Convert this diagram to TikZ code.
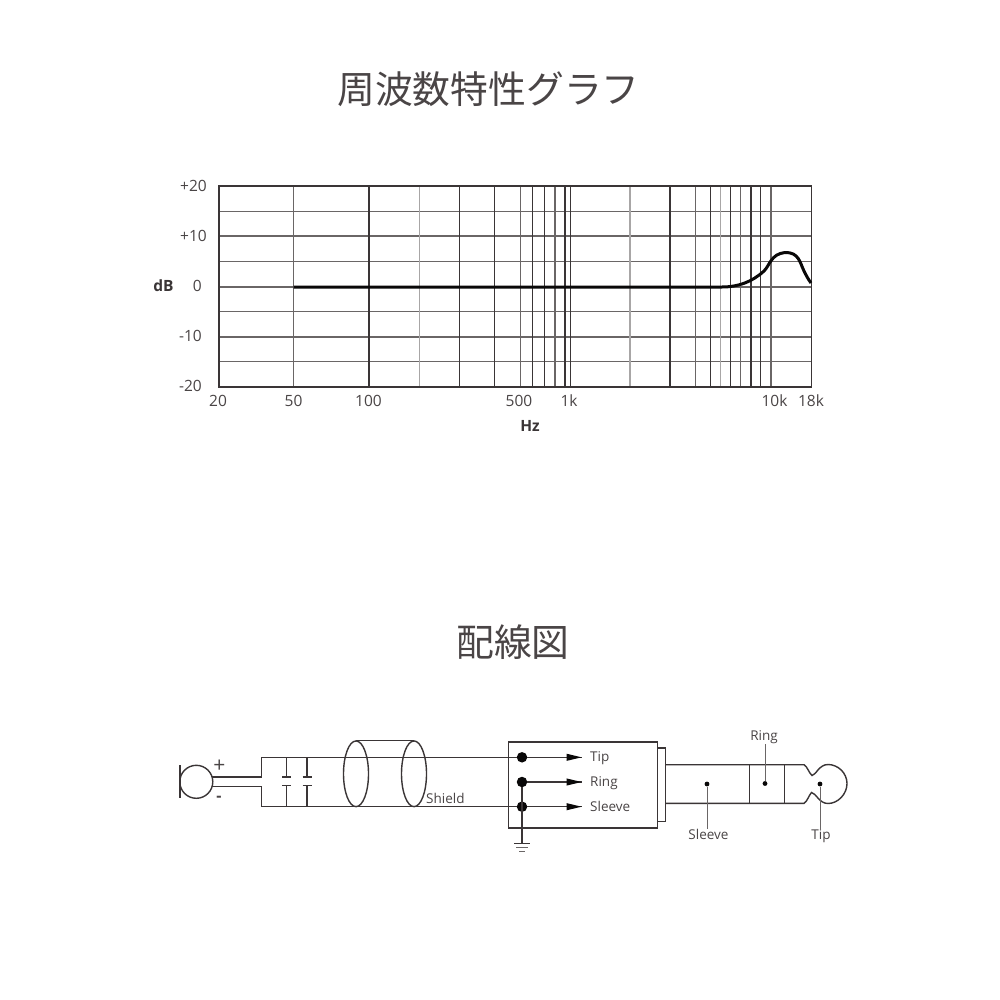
\documentclass[tikz,border=0pt]{standalone}
\usepackage{fontspec}
\usetikzlibrary{shapes.geometric}
\setmainfont{Open Sans}
\newfontfamily\cjk{Noto Sans CJK JP}
\definecolor{ink}{HTML}{3A3536}
\definecolor{txt}{HTML}{4A4546}
\definecolor{midg}{HTML}{6A6666}
\definecolor{ligg}{HTML}{A8A6A6}
\tikzset{
 title/.style={font=\cjk\fontsize{37.8}{38}\selectfont,text=txt,inner sep=0pt},
 lab/.style={font=\fontsize{15.5}{16}\selectfont,text=txt,inner sep=0pt},
 blab/.style={font=\bfseries\fontsize{15.5}{16}\selectfont,text=ink,inner sep=0pt},
 small/.style={font=\fontsize{13.5}{14}\selectfont,text=txt,inner sep=0pt},
 gridd/.style={draw=ink,line width=1.15pt},
 gridm/.style={draw=midg,line width=1.15pt},
 gridl/.style={draw=ligg,line width=1.6pt},
 wire/.style={draw=ink,line width=1.4pt},
 thinw/.style={draw=midg,line width=.9pt},
 junction/.style={circle,fill=black!85!ink,inner sep=0pt,minimum size=10.5pt},
 pin/.style={circle,fill=black!85!ink,inner sep=0pt,minimum size=4.8pt},
 arrowfill/.style={fill=black!85!ink,draw=none},
}
\begin{document}
\begin{tikzpicture}[x=1pt,y=-1pt]
\useasboundingbox (0,0) rectangle (1000,1000);
\fill[white] (0,0) rectangle (1000,1000);
\node[title] (t1) at (488.5,89.5) {周波数特性グラフ};
\node[title] (t2) at (513,642.5) {配線図};
% horizontal grid
\foreach \y in {211.7,261.3,311.7,361.7} \draw[gridm] (219,\y) -- (811.5,\y);
\foreach \y in {236,287,337} \draw[gridm] (219,\y) -- (811.5,\y);
% vertical grid
\foreach \x in {293.7,520.3,555,695.7,740.3,771} \draw[gridm] (\x,186) -- (\x,387);
\foreach \x in {419.3,630,720.3} \draw[gridl] (\x,186) -- (\x,387);
\foreach \x in {369,459.3,494.3,532.3,544.7,565,570.3,670,710.3,730.7,751,760.3} \draw[gridd] (\x,186) -- (\x,387);
\draw[ink,line width=1.7pt] (219,186) rectangle (811.5,387);
% response
\draw[black!85!ink,line width=3pt,line join=round]
 (293.7,287) -- (722,287) .. controls (738,287) and (752,282) .. (764,271)
 .. controls (770,265) and (771,254) .. (785,252.5)
 .. controls (799,252) and (800,263) .. (804,271)
 .. controls (806,275) and (808,279) .. (811,283);
% axis labels
\node[lab,anchor=east] (a1) at (207,186) {+20};
\node[lab,anchor=east] (a2) at (207,236) {+10};
\node[lab,anchor=east] (a3) at (202,286) {0};
\node[lab,anchor=east] (a4) at (202,336) {-10};
\node[lab,anchor=east] (a5) at (202,386) {-20};
\node[blab] (db) at (163.5,286) {dB};
\node[lab] (f1) at (218,401) {20};
\node[lab] (f2) at (293.5,401) {50};
\node[lab] (f3) at (368.5,401) {100};
\node[lab] (f4) at (519,401) {500};
\node[lab] (f5) at (569,401) {1k};
\node[lab] (f6) at (774.5,401) {10k};
\node[lab] (f7) at (811,401) {18k};
\node[blab] (hz) at (530,426) {Hz};
% microphone
\node[circle,draw=ink,line width=1.4pt,minimum size=33pt,inner sep=0pt] (mic) at (196.3,781.8) {};
\draw[wire] (180,765) -- (180,798);
\node[font=\fontsize{21}{21}\selectfont,text=txt,inner sep=0pt] (plus) at (219.5,766) {+};
\node[font=\bfseries\fontsize{16}{16}\selectfont,text=txt,inner sep=0pt] (minus) at (219,799) {-};
\coordinate (nw) at (261.7,757.3);
\coordinate (sw) at (261.7,806.7);
\coordinate (pw) at (261.7,777);
\coordinate (mw) at (261.7,786.7);
\draw[wire] (212.2,777) -- (pw) -- (nw);
\draw[wire] (212.2,786.7) -- (mw) -- (sw);
% capacitors
\foreach \x in {286.7,307}{
 \draw[wire] (\x,757.3) -- (\x,777) (\x-4.5,777) -- (\x+4.5,777);
 \draw[wire] (\x,806.7) -- (\x,785.7) (\x-4.5,785.7) -- (\x+4.5,785.7);
}
% plug body box
\node[draw=ink,line width=1.4pt,minimum width=148.7pt,minimum height=86pt,inner sep=0pt,anchor=north west] (box) at (508,741.3) {};
\node[draw=ink,line width=1.4pt,minimum width=8.3pt,minimum height=73.7pt,inner sep=0pt,anchor=north west] (flange) at (656.7,747.3) {};
% junctions and wires
\node[junction] (jt) at (522,757.3) {};
\node[junction] (jr) at (522,782) {};
\node[junction] (js) at (522,806.7) {};
\draw[wire] (nw) -- (jt);
\draw[wire] (sw) -- (js);
% shield
\node[ellipse,draw=ink,line width=1.4pt,minimum width=25pt,minimum height=65.7pt,inner sep=0pt] (e1) at (356,773.8) {};
\node[ellipse,draw=ink,line width=1.4pt,minimum width=25pt,minimum height=65.7pt,inner sep=0pt] (e2) at (414,773.8) {};
\draw[wire] (e1.north) -- (e2.north);
\node[small,anchor=west] (shield) at (426,798.5) {Shield};
% arrows
\coordinate (at) at (581.5,757.3);
\coordinate (ar) at (581.5,782);
\coordinate (as) at (581.5,806.7);
\foreach \a/\j in {at/jt,ar/jr,as/js}{
 \draw[wire,line width=1.1pt] (\j) -- (\a);
 \fill[arrowfill] (\a) -- ++(-15,-3.6) -- ++(0,7.2) -- cycle;
}
\node[small,anchor=west] (ltip) at (590,758.5) {Tip};
\node[small,anchor=west] (lring) at (590,783) {Ring};
\node[small,anchor=west] (lsleeve) at (590,806.5) {Sleeve};
% ground
\coordinate (gnd) at (522,843.5);
\draw[wire] (jr) -- (gnd);
\draw[wire] (514,843.5) -- (530,843.5);
\draw[draw=midg,line width=1.3pt] (516,847.5) -- (528,847.5);
\draw[draw=midg,line width=1.3pt] (519,851.5) -- (525,851.5);
% plug
\draw[wire] (665,764.7) -- (804,764.7) .. controls (807,766) and (809,773) .. (812,775.5)
 .. controls (816,775) and (819,764.5) .. (828,764.5)
 .. controls (838,764.5) and (847,773) .. (847,783.5)
 .. controls (847,794) and (838,803.5) .. (828,803.5)
 .. controls (819,803.5) and (816,793) .. (811.5,792.5)
 .. controls (809,795) and (807,802) .. (804,803.3) -- (665,803.3);
\draw[wire] (749.3,764.7) -- (749.3,803.3);
\draw[wire] (784.3,764.7) -- (784.3,803.3);
% plug pins
\node[pin] (ps) at (707,784) {};
\node[pin] (pr) at (765,783.5) {};
\node[pin] (pt) at (820,784) {};
\node[small] (ls) at (708.5,834.5) {Sleeve};
\node[small] (lr) at (764,737.5) {Ring};
\node[small] (lt) at (821,836) {Tip};
\draw[thinw] (ps) -- (ls.north-|ps);
\draw[thinw] (pr) -- (lr.south-|pr);
\draw[thinw] (pt) -- (lt.north-|pt);
\end{tikzpicture}
\end{document}
